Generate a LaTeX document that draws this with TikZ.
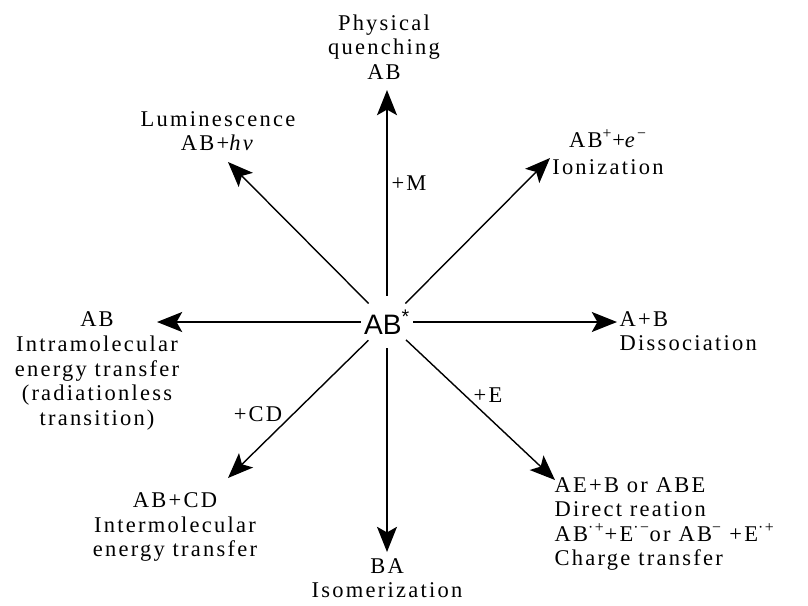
\documentclass[tikz,border=0pt]{standalone}
\usepackage{fontspec}
\setmainfont{Liberation Serif}[LetterSpace=10]
\newfontfamily\absans{Liberation Sans}
\usetikzlibrary{arrows.meta}

\tikzset{
  lbl/.style={align=center, inner sep=1pt, font=\fontsize{16}{17.5}\selectfont},
  arr/.style={-{Stealth[length=6.3mm, width=5mm, inset=1.4mm]}, line width=1pt},
}

\begin{document}
\begin{tikzpicture}
\useasboundingbox (0,0) rectangle (20.2,-15.15);

% excited molecule in the middle
\node[circle, inner sep=0pt, font=\absans\fontsize{20}{24}\selectfont] (ab) at (9.675,-8.05) {AB\textsuperscript{*}};

% arrow tips
\coordinate (tup) at (9.675,-2.25);
\coordinate (tur) at (13.75,-3.95);
\coordinate (tr) at (15.425,-8.05);
\coordinate (tul) at (5.7,-4.05);
\coordinate (tl) at (3.925,-8.05);
\coordinate (tdl) at (5.7,-11.95);
\coordinate (td) at (9.675,-13.8);
\coordinate (tdr) at (13.875,-12.0);

% products
\node[lbl] (quench) at (9.6,-1.175) {Physical\\quenching\\AB};
\node[lbl] (lumin) at (5.45,-3.275) {Luminescence\\AB+\textit{hv}};
\node[lbl] (ioniz) at (15.2,-3.8) {AB\textsuperscript{+}+\textit{e}\textsuperscript{−}\\[2pt]Ionization};
\node[lbl, anchor=west, align=left] (diss) at (15.45,-8.275) {A+B\\Dissociation};
\node[lbl] (intra) at (2.425,-9.275) {AB\\Intramolecular\\energy transfer\\(radiationless\\transition)};
\node[lbl] (inter) at (4.375,-13.175) {AB+CD\\Intermolecular\\energy transfer};
\node[lbl] (isom) at (9.675,-14.45) {BA\\Isomerization};
\node[lbl, anchor=west, align=left] (direct) at (13.825,-13.1) {AE+B or ABE\\Direct reation\\AB\textsuperscript{·+}+E\textsuperscript{·−}or AB\textsuperscript{−} +E\textsuperscript{·+}\\Charge transfer};

\draw[arr] (ab) -- (tup);
\draw[arr] (ab) -- (tur);
\draw[arr] (ab) -- (tr);
\draw[arr] (ab) -- (tul);
\draw[arr] (ab) -- (tl);
\draw[arr] (ab) -- (tdl);
\draw[arr] (ab) -- (td);
\draw[arr] (ab) -- (tdr);

% reagents on the arrows
\node[lbl] (m) at (10.225,-4.575) {+M};
\node[lbl] (cd) at (6.45,-10.35) {+CD};
\node[lbl] (e) at (12.2,-9.875) {+E};
\end{tikzpicture}
\end{document}
